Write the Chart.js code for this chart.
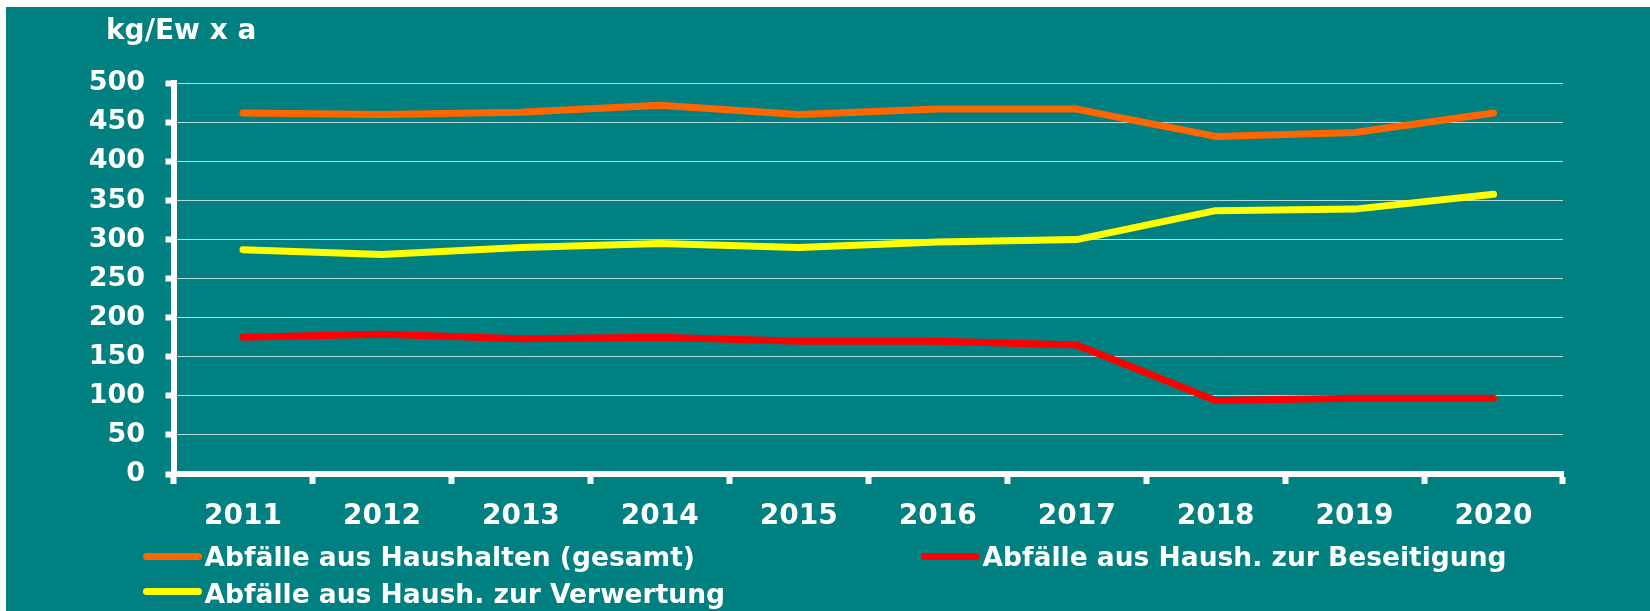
<!DOCTYPE html>
<html><head><meta charset="utf-8">
<script src="https://cdn.jsdelivr.net/npm/chart.js@4.4.1/dist/chart.umd.min.js"></script>
<style>
html,body{margin:0;padding:0;background:#fff;width:1650px;height:611px;overflow:hidden;}
#panel{position:absolute;left:6px;top:7px;width:1644px;height:604px;background:#008080;}
#c{position:absolute;left:0;top:0;}
.t{position:absolute;color:#fff;font-family:Verdana,"DejaVu Sans",sans-serif;font-weight:bold;white-space:nowrap;line-height:1;}
.sw{position:absolute;height:7px;border-radius:4px;}
</style></head><body>
<div id="panel"><canvas id="c" width="1644" height="604"></canvas>
<div id="ytitle" class="t"></div><div id="legend"></div></div>
<script>
const categories = ['2011','2012','2013','2014','2015','2016','2017','2018','2019','2020'];
const gesamt = [462, 460, 463, 472, 460, 467, 467, 432, 437, 462];
const beseitigung = [175, 179, 173, 175, 170, 170, 165, 94, 97, 97];
const verwertung = [287, 281, 290, 295, 290, 297, 300, 337, 339, 358];
const yMin = 0, yMax = 500, yStep = 50;
const yTitle = 'kg/Ew x a';
const seriesNames = ['Abfälle aus Haushalten (gesamt)', 'Abfälle aus Haush. zur Beseitigung', 'Abfälle aus Haush. zur Verwertung'];
const seriesColors = ['#FF6600', '#FF0000', '#FFFF00'];

const FONT = 'Verdana, "DejaVu Sans", sans-serif';
const datasets = [gesamt, beseitigung, verwertung].map((d, i) => ({
  label: seriesNames[i], data: d, borderColor: seriesColors[i], backgroundColor: seriesColors[i],
  borderWidth: 7, pointRadius: 0, borderCapStyle: 'round', borderJoinStyle: 'round', tension: 0, fill: false
}));

new Chart(document.getElementById('c'), {
  type: 'line',
  data: { labels: categories, datasets },
  options: {
    responsive: false, animation: false, devicePixelRatio: 1,
    layout: { padding: { left: 0, top: 76.3, right: 87, bottom: 77 } },
    plugins: { legend: { display: false }, tooltip: { enabled: false }, title: { display: false } },
    scales: {
      x: {
        type: 'category', offset: true,
        grid: { offset: true, drawOnChartArea: false, drawTicks: true, tickLength: 10, tickWidth: 6, tickColor: '#fff' },
        border: { display: true, color: '#fff', width: 6 },
        ticks: { color: '#fff', font: { family: FONT, size: 28, weight: 'bold' }, padding: 16, maxRotation: 0, autoSkip: false },
        afterFit: s => { s.height = 60; }
      },
      y: {
        min: yMin, max: yMax,
        grid: { color: 'rgba(255,255,255,0.72)', lineWidth: 1, drawTicks: true, tickLength: 8, tickWidth: 6, tickColor: '#fff' },
        border: { display: true, color: '#fff', width: 6 },
        ticks: { stepSize: yStep, color: '#fff', font: { family: FONT, size: 27, weight: 'bold' }, padding: 20.5 },
        afterFit: s => { s.width = 167.5; }
      }
    }
  }
});

const yt = document.getElementById('ytitle');
yt.textContent = yTitle;
yt.style.cssText = 'left:100px;top:9px;font-size:28px;';

const legendLayout = [
  { left: 137, top: 546, textTop: 537 },
  { left: 915, top: 546, textTop: 537 },
  { left: 137, top: 581, textTop: 573.5 }
];
const lg = document.getElementById('legend');
seriesNames.forEach((name, i) => {
  const p = legendLayout[i];
  const sw = document.createElement('div');
  sw.className = 'sw';
  sw.style.cssText = `left:${p.left}px;top:${p.top}px;width:59px;background:${seriesColors[i]};`;
  lg.appendChild(sw);
  const t = document.createElement('div');
  t.className = 't';
  t.textContent = name;
  t.style.cssText = `left:${p.left + 61.6}px;top:${p.textTop}px;font-size:26.5px;`;
  lg.appendChild(t);
});
</script>
</body></html>
